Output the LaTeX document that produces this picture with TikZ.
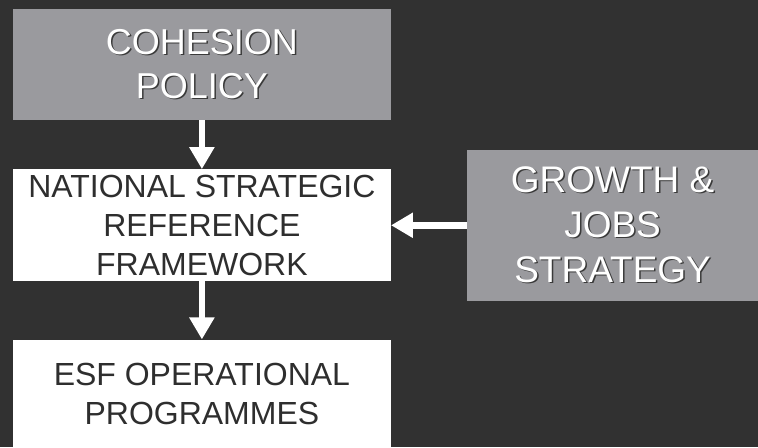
\documentclass[tikz,border=0pt]{standalone}
\usepackage{fontspec}
\setmainfont{Liberation Sans}
\usetikzlibrary{
		positioning,
		arrows.meta
	}
\definecolor{bgdark}{HTML}{313131}
\definecolor{boxgray}{HTML}{9A9A9E}
\definecolor{textdark}{HTML}{2E2E2E}
\definecolor{shadowdark}{HTML}{3A3A3A}
\newcommand{\embossed}[1]{\makebox[0pt][l]{\hspace{1.5pt}\raisebox{-1.5pt}{\textcolor{shadowdark}{#1}}}#1}
\begin{document}
\begin{tikzpicture}[x=1pt, y=1pt,
	graybox/.style={fill=boxgray, text=white, minimum width=378pt, minimum height=111pt, align=center, inner sep=0pt, font=\fontsize{36}{44}\selectfont},
	whitebox/.style={fill=white, text=textdark, minimum width=378pt, align=center, inner sep=0pt, font=\fontsize{32}{39}\selectfont},
	flow/.style={white, line width=6.5pt, -{Triangle[width=24pt,length=22pt]}},
	node distance=49pt]
	\fill[bgdark] (0,0) rectangle (758,-447); % background, also fixes the page size
	\node[graybox] (cohesion) at (202,-64.5) {\embossed{COHESION}\\\embossed{POLICY}};
	\node[whitebox, minimum height=112pt, below=of cohesion] (nsrf) {NATIONAL STRATEGIC\\REFERENCE\\FRAMEWORK};
	\node[whitebox, minimum height=108pt, below=58pt of nsrf] (esf) {ESF OPERATIONAL\\PROGRAMMES};
	\node[graybox, minimum width=291pt, minimum height=151pt, right=76pt of nsrf, font=\fontsize{37}{45}\selectfont] (growth) {\embossed{GROWTH \&}\\\embossed{JOBS}\\\embossed{STRATEGY}};
	\draw[flow] (cohesion) -- (nsrf);
	\draw[flow] (nsrf) -- (esf);
	\draw[flow] (growth) -- (nsrf);
\end{tikzpicture}
\end{document}
